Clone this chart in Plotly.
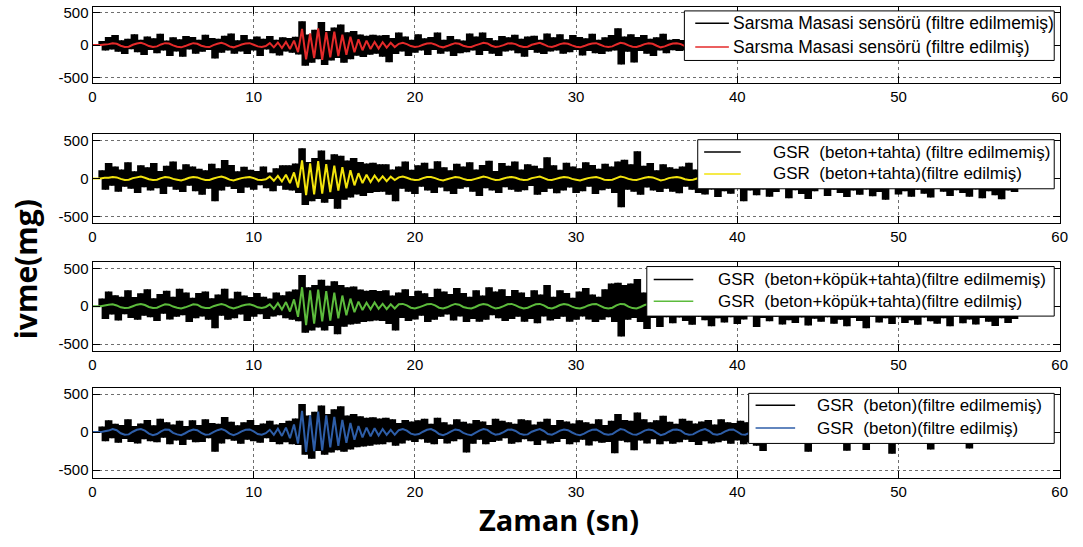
import numpy as np
import plotly.graph_objects as go

# ---------------- data (mg) ----------------
DT_RAW = 0.2    # s, unfiltered sample spacing
DT_FLT = 0.25   # s, filtered sample spacing

raw_sarsma = [
    0, 0, 0, 65, -85, 125, -70, 155, -105, 75,
    -140, 100, -65, 170, -110, 85, -155, 135, -75, 105,
    -125, 175, -85, 70, -170, 120, -100, 90, -180, 140,
    -70, 125, -135, 85, -105, 160, -75, 110, -210, 100,
    -120, 145, -85, 180, -135, 75, -100, 155, -140, 90,
    -85, 135, -170, 100, -70, 140, -125, 85, -160, 120,
    -100, 110, -120, 130, -145, 370, -320, 165, -275, 240,
    -220, 360, -310, 220, -240, 275, -200, 320, -275, 200,
    -220, 220, -165, 165, -185, 145, -150, 160, -135, 150,
    -180, 155, -265, 110, -140, 195, -100, 135, -170, 85,
    -120, 170, -85, 105, -155, 125, -75, 195, -135, 85,
    -100, 140, -170, 90, -125, 70, -110, 180, -85, 135,
    -155, 195, -90, 110, -135, 75, -170, 140, -100, 120,
    -85, 160, -125, 100, -180, 135, -75, 145, -120, 85,
    -140, 180, -100, 120, -85, 170, -135, 90, -110, 155,
    -75, 125, -160, 105, -90, 175, -125, 85, -140, 120,
    -100, 155, -85, 260, -300, 135, -105, 170, -270,
    125, -90, 155, -135, 100, -170, 120, -85, 175, -125,
    85, -80, 95, -90, 80, -85, 90, -80, 85, -90,
    80, -85, 90, -80, 85, -90, 80, -85, 95, -80,
    85, -90, 80, -85, 90, -95, 85, -80, 90, -85,
    80, -90, 95, -85, 80, -90, 85, -80, 90, -85,
    95, -80, 85, -90, 80, -85, 90, -95, 85, -80,
    90, -85, 80, -90, 85, -80, 95, -85, 80, -90,
    85, -80, 90, -85, 80, -95, 85, -90, 80, -85,
    90, -80, 85, -90, 95, -85, 80, -90, 85, -80,
    90, -85, 80, -95, 85, -80, 90, -85, 80, -90,
    85, -80, 95, -85, 80, -90, 85, -80, 90, -85,
    80, -90, 85, -80, 90, -85, 80, -85, 60, 0,
]

flt_sarsma = [
    0, 0, 0, 10,
    15, 30, 20, -10, -30, -25, 5, 25, 35, 15,
    -15, -30, -20, 10, 30, 25, -5, -25, -35, -15,
    10, 30, 20, -10, -25, -30, 0, 20, 35, 15,
    -20, -35, -15, 10, 25, 30, 5, -20, -30, -15,
    30, -35, 40, -45, 50, -60, 70, -110,
    250, -220, 180, -200, 260, -230, 200, -190,
    210, -170, 160, -150, 130, -110, 90, -80,
    70, -60, 50, -55, 45, -40, 35, -30,
    20, 35, 15, -15, -30, -20, 5, 25, 30, 10,
    -20, -35, -15, 10, 30, 20, -10, -25, -30, -5,
    15, 35, 25, -10, -30, -20, 0, 25, 30, 15,
    -15, -30, -25, 5, 20, 35, 10, -20, -30, -10,
    15, 30, 20, -5, -25, -35, -15, 10, 25, 30,
    5, -20, -30, -20, 10, 35, 25, -5, -25, -30,
    -10, 15, 30, 20, -10, -35, -20, 5, 25, 30,
    15, -15, -30, -25, 0, 20, 35, 10, -20, -30,
    -15, 10, 25, 30, 5, -25, -30, -10,
]

raw_tahta = [
    0, 0, 0, 110, -150, 205, -95, 160, -175, 120,
    -110, 215, -135, 95, -190, 175, -115, 150, -160, 205,
    -130, 100, -205, 170, -110, 225, -150, 120, -180, 190,
    -95, 160, -170, 130, -215, 110, -135, 195, -300, 135,
    -160, 245, -110, 180, -140, 95, -190, 155, -120, 115,
    -150, 100, -90, 160, -130, 80, -170, 135, -95, 175,
    -150, 175, -160, 200, -190, 400, -350, 220, -300, 270,
    -270, 370, -320, 250, -270, 320, -400, 300, -280, 240,
    -250, 270, -210, 220, -230, 200, -190, 210, -180, 190,
    -175, 190, -215, 120, -300, 160, -135, 225, -175, 115, -205,
    175, -110, 210, -160, 130, -190, 230, -120, 150, -170,
    110, -205, 195, -135, 160, -115, 215, -175, 120, -230,
    180, -130, 235, -160, 100, -190, 205, -115, 170, -150,
    225, -175, 120, -155, 190, -100, 170, -215, 135, -180,
    280, -135, 175, -195, 115, -160, 210, -120, 160, -190,
    135, -170, 215, -110, 180, -205, 130, -155, 195, -135,
    160, -190, 225, -380, 250, -150, 190, -175, 360,
    -215, 170, -120, 205, -160, 110, -180, 190, -135, 150,
    -175, 130, -195, 160, -110, 210, -150, 120, -190, 170,
    -210, 130, -145, 155, -245, 115, -170, 145, -200, 125,
    -130, 150, -300, 120, -160, 140, -220, 110, -145, 155,
    -240, 125, -180, 145, -115, 130, -260, 150, -155, 120,
    -205, 140, -270, 115, -170, 145, -130, 155, -230, 125,
    -150, 130, -190, 145, -245, 120, -160, 140, -215, 115,
    -145, 150, -235, 130, -180, 110, -280, 145, -125, 140,
    -210, 120, -170, 145, -240, 130, -150, 115, -200, 155,
    -250, 125, -140, 145, -175, 120, -230, 150, -155, 130,
    -190, 115, -240, 145, -145, 130, -260, 120, -170, 150,
    -220, 130, -275, 115, -160, 145, -180, 110, 0,
]

flt_tahta = [
    0, 0, 0, 10,
    10, 20, 15, -5, -20, -15, 5, 15, 25, 10,
    -10, -20, -15, 5, 20, 15, -5, -15, -25, -10,
    10, 20, 15, -5, -20, -20, 0, 15, 25, 10,
    -15, -25, -10, 5, 15, 20, 5, -15, -20, -10,
    25, -30, 35, -40, 50, -60, 80, -120,
    240, -220, 200, -210, 230, -200, 190, -180,
    170, -160, 150, -130, 110, -90, 70, -60,
    50, -45, 40, -35, 30, -35, 25, -20,
    15, 25, 10, -10, -20, -15, 5, 20, 20, 5,
    -15, -25, -10, 5, 20, 15, -5, -20, -20, -5,
    10, 25, 15, -5, -20, -15, 0, 15, 20, 10,
    -10, -20, -15, 5, 15, 25, 5, -15, -20, -5,
    10, 20, 15, -5, -15, -25, -10, 5, 15, 20,
    5, -15, -20, -15, 5, 25, 15, -5, -15, -20,
    -5, 10, 20, 15, -5, -25, -15, 5, 15, 20,
    10, -10, -20, -15, 0, 15, 25, 5, -15, -20,
    -10, 5, 15, 20, 5, -15, -20, -5,
]

raw_kopuk = [
    0, 0, 0, 100, -170, 195, -110, 145, -190, 125,
    -105, 210, -155, 120, -180, 170, -125, 225, -145, 105,
    -195, 160, -100, 205, -175, 125, -140, 230, -120, 180,
    -210, 110, -160, 175, -135, 195, -180, 105, -290, 155,
    -125, 230, -180, 100, -160, 190, -110, 140, -195, 120,
    -140, 175, -105, 125, -170, 100, -135, 180, -120, 145,
    -160, 195, -180, 220, -200, 410, -350, 250, -320, 280,
    -280, 350, -320, 270, -260, 330, -370, 280, -270, 250,
    -240, 260, -230, 220, -210, 205, -200, 215, -190, 200,
    -195, 210, -235, 140, -320, 180, -155, 225, -195, 135, -175,
    205, -125, 170, -210, 120, -180, 230, -140, 195, -110,
    160, -190, 240, -135, 175, -210, 125, -170, 210, -205,
    140, -180, 250, -120, 195, -160, 225, -195, 135, -170,
    215, -140, 180, -205, 120, -170, 210, -225, 155, -135,
    280, -190, 125, -170, 210, -140, 175, -205, 110, -180,
    195, -135, 240, -175, 155, -210, 125, -180, 225, -145,
    300, -210, 310, -400, 280, -180, 300, -155, 360,
    -210, 180, -300, 175, -155, 170, -275, 160, -145, 180,
    -225, 125, -150, 145, -195, 115, -245, 140, -140, 120,
    -185, 130, -265, 110, -160, 145, -215, 125, -145, 140,
    -235, 115, -175, 140, -130, 125, -275, 145, -155, 110,
    -200, 140, -140, 120, -240, 130, -185, 115, -220, 145,
    -150, 125, -255, 110, -165, 140, -205, 120, -145, 130,
    -230, 140, -180, 125, -265, 115, -155, 145, -195, 110,
    -290, 125, -140, 130, -215, 145, -160, 115, -235, 140,
    -145, 120, -220, 130, -185, 140, -245, 110, -150, 125,
    -200, 145, -230, 115, -160, 130, -265, 140, -140, 120,
    -225, 125, -175, 145, -240, 110, -155, 130, -205, 140,
    -260, 120, -160, 130, -220, 115, -170, 90, 0,
]

flt_kopuk = [
    0, 0, 0, 10,
    20, 25, 10, -15, -25, -20, 0, 20, 30, 15,
    -10, -25, -20, 5, 25, 20, -5, -20, -30, -15,
    5, 25, 20, -10, -25, -25, 0, 15, 30, 15,
    -15, -30, -15, 5, 20, 25, 10, -15, -25, -10,
    25, -35, 40, -45, 55, -70, 90, -140,
    250, -250, 210, -230, 220, -200, 200, -190,
    180, -160, 140, -120, 100, -80, 60, -50,
    45, -40, 50, -35, 30, -40, 25, -30,
    25, 30, 10, -20, -30, -15, 5, 25, 30, 10,
    -20, -30, -15, 10, 30, 20, -10, -25, -30, -10,
    15, 30, 20, -10, -30, -20, 0, 25, 30, 10,
    -15, -30, -20, 5, 25, 30, 10, -20, -30, -10,
    15, 30, 20, -5, -25, -30, -15, 10, 25, 30,
    5, -20, -30, -20, 10, 30, 25, -5, -25, -30,
    -10, 15, 30, 20, -10, -30, -20, 5, 25, 30,
    15, -15, -30, -25, 0, 20, 30, 10, -20, -30,
    -15, 10, 25, 30, 5, -25, -30, -10,
]

raw_beton = [
    0, 0, 0, 75, -120, 155, -80, 110, -140, 95,
    -90, 170, -130, 80, -150, 115, -95, 160, -120, 90,
    -135, 175, -75, 130, -160, 100, -110, 150, -170, 80,
    -100, 155, -135, 95, -130, 170, -80, 120, -260, 110,
    -150, 200, -95, 135, -115, 90, -155, 130, -100, 160,
    -120, 95, -140, 115, -80, 150, -130, 100, -160, 120,
    -135, 150, -160, 180, -170, 370, -300, 220, -350, 270,
    -250, 350, -300, 240, -270, 300, -240, 340, -260, 220,
    -230, 240, -200, 210, -190, 190, -180, 195, -165, 180,
    -160, 190, -135, 170, -180, 120, -150, 160, -110, 140,
    -130, 155, -95, 175, -140, 110, -160, 190, -90, 130,
    -150, 100, -120, 170, -95, 135, -270, 115, -155, 160,
    -100, 140, -160, 95, -130, 175, -115, 150, -80, 130,
    -155, 110, -135, 170, -95, 155, -120, 100, -170, 135,
    -110, 175, -150, 95, -130, 160, -90, 140, -160, 115,
    -135, 155, -100, 130, -175, 110, -120, 170, -140, 95,
    -130, 150, -280, 240, -115, 160, -135, 150, -240, 260,
    -110, 170, -150, 130, -95, 155, -160, 215, -120, 135,
    -155, 110, -135, 175, -100, 150, -130, 115, -170, 140,
    -120, 160, -150, 100, -135, 170, -115, 130, -155, 120,
    -110, 150, -160, 130, -135, 115, -180, 135, -250, 120,
    -100, 95, -85, 90, -95, 100, -90, 85, -95, 100,
    -90, 85, -260, 95, -100, 90, -85, 95, -90, 100,
    -95, 85, -90, 100, -245, 90, -85, 95, -100, 90,
    -235, 85, -95, 100, -90, 95, -85, 90, -285, 100,
    -90, 85, -95, 100, -85, 90, -95, 85, -100, 90,
    -230, 95, -85, 90, -100, 85, -95, 90, -85, 95,
    -90, 100, -215, 85, -95, 90, -85, 95, -100, 85,
    -90, 95, -85, 100, -95, 85, -90, 60, 0,
]

flt_beton = [
    0, 0, 0, 10,
    20, 40, 25, -15, -35, -30, 5, 30, 40, 20,
    -20, -40, -25, 10, 35, 30, -10, -30, -40, -15,
    15, 35, 25, -10, -35, -30, 0, 25, 40, 20,
    -20, -40, -20, 10, 30, 35, 10, -25, -35, -15,
    30, -35, 45, -50, 60, -80, 100, -150,
    280, -260, 220, -250, 270, -240, 220, -200,
    200, -180, 160, -140, 120, -100, 80, -70,
    60, -55, 50, -45, 40, -35, 30, -35,
    25, 40, 20, -20, -35, -25, 5, 30, 40, 15,
    -25, -40, -20, 10, 35, 25, -10, -30, -40, -10,
    20, 40, 30, -10, -35, -25, 0, 30, 35, 15,
    -20, -35, -30, 5, 25, 40, 15, -25, -35, -10,
    20, 35, 25, -5, -30, -40, -20, 10, 30, 35,
    5, -25, -35, -25, 10, 40, 30, -5, -30, -35,
    -10, 20, 35, 25, -10, -40, -25, 5, 30, 35,
    20, -20, -35, -30, 0, 25, 40, 15, -25, -35,
    -20, 10, 30, 35, 5, -30, -35, -10,
]

x_ticks = [0, 10, 20, 30, 40, 50, 60]
y_ticks = [-500, 0, 500]
y_ticktext = ["-500", "0", "500"]

names_raw = [
    "Sarsma Masasi sensörü (filtre edilmemiş)",
    "GSR\u00a0\u00a0(beton+tahta) (filtre edilmemiş)",
    "GSR\u00a0\u00a0(beton+köpük+tahta)(filtre edilmemiş)",
    "GSR\u00a0\u00a0(beton)(filtre edilmemiş)",
]
names_flt = [
    "Sarsma Masasi sensörü (filtre edilmiş)",
    "GSR\u00a0\u00a0(beton+tahta)(filtre edilmiş)",
    "GSR\u00a0\u00a0(beton+köpük+tahta)(filtre edilmiş)",
    "GSR\u00a0\u00a0(beton)(filtre edilmiş)",
]
raw_series = [raw_sarsma, raw_tahta, raw_kopuk, raw_beton]
flt_series = [flt_sarsma, flt_tahta, flt_kopuk, flt_beton]
flt_colors = ["#e42a2a", "#f2e30c", "#5cbb3c", "#2e5ea8"]

# ---------------- layout geometry (px) ----------------
W, H = 1083, 547
X0, X1 = 89.5, 1067.5
panels_px = [(4.7, 81.7), (133.3, 223.0), (262.0, 352.0), (389.3, 480.0)]
y_ranges = [[-588, 597], [-588, 588], [-588, 588], [-600, 585]]
# legend box: left, right, top, bottom, line x0, line x1, text x, row1 y, row2 y, font
legend_px = [
    (688, 1062, 9, 59, 699, 733, 735, 21.5, 45.5, 17.5),
    (701.5, 1062, 139, 188.5, 708, 745, 776, 151.5, 173.5, 17),
    (650, 1062, 267, 317, 657, 697, 720, 280, 302, 17),
    (753, 1062, 395, 445.5, 760, 800, 820, 407, 430, 17),
]

FONT = "Liberation Sans, Arial, sans-serif"


def px_x(v):
    return v / W


def px_y(v):
    return 1 - v / H


fig = go.Figure()
shapes = []
annotations = []
for k in range(4):
    ax = "" if k == 0 else str(k + 1)
    yr = np.asarray(raw_series[k], dtype=float)
    tr = np.arange(len(yr)) * DT_RAW
    # dense sampled signal drawn as the span covered between successive samples
    lo = np.minimum(yr[:-1], yr[1:])
    hi = np.maximum(yr[:-1], yr[1:])
    fig.add_trace(go.Bar(
        x=tr[:-1] + DT_RAW / 2, y=hi - lo, base=lo, width=DT_RAW * 1.35,
        marker=dict(color="black", line=dict(width=0)), name=names_raw[k],
        showlegend=False, xaxis="x" + ax, yaxis="y" + ax, hoverinfo="skip"))
    yf = flt_series[k]
    tf = np.arange(len(yf)) * DT_FLT
    fig.add_trace(go.Scatter(
        x=tf, y=yf, mode="lines", name=names_flt[k],
        line=dict(color=flt_colors[k], width=2, simplify=False),
        showlegend=False, xaxis="x" + ax, yaxis="y" + ax, hoverinfo="skip"))

    top, bot = panels_px[k]
    common = dict(
        showline=True, linecolor="black", linewidth=1, mirror="ticks",
        ticks="inside", ticklen=7, tickcolor="black", tickwidth=1,
        showgrid=True, gridcolor="#6e6e6e", griddash="dot", gridwidth=1,
        zeroline=False, tickfont=dict(family=FONT, size=15, color="black"),
    )
    fig.update_layout(**{
        "xaxis" + ax: dict(
            domain=[X0 / W, X1 / W], range=[0, 60], tickvals=x_ticks,
            anchor="y" + ax, **common),
        "yaxis" + ax: dict(
            domain=[1 - bot / H, 1 - top / H], range=y_ranges[k],
            tickvals=y_ticks, ticktext=y_ticktext, anchor="x" + ax, **common),
    })

    # legend box drawn in pixel positions
    L, R, T, B, lx0, lx1, tx, r1, r2, fs = legend_px[k]
    shapes.append(dict(type="rect", xref="paper", yref="paper", layer="above",
                       x0=px_x(L), x1=px_x(R), y0=px_y(B), y1=px_y(T),
                       fillcolor="white", line=dict(color="black", width=1)))
    for ry, col, txt in [(r1, "black", names_raw[k]), (r2, flt_colors[k], names_flt[k])]:
        shapes.append(dict(type="line", xref="paper", yref="paper", layer="above",
                           x0=px_x(lx0), x1=px_x(lx1), y0=px_y(ry), y1=px_y(ry),
                           line=dict(color=col, width=1.5)))
        annotations.append(dict(
            text=txt, x=px_x(tx), y=px_y(ry), xref="paper", yref="paper",
            xanchor="left", yanchor="middle", showarrow=False,
            font=dict(family=FONT, size=fs, color="black")))

annotations.append(dict(
    text="<b>ivme(mg)</b>", x=22 / W, y=1 - 270 / H, xref="paper", yref="paper",
    textangle=-90, showarrow=False, xanchor="center", yanchor="middle",
    font=dict(family="Open Sans, sans-serif", size=30, color="black")))
annotations.append(dict(
    text="<b>Zaman (sn)</b>", x=561 / W, y=1 - 522 / H, xref="paper", yref="paper",
    showarrow=False, xanchor="center", yanchor="middle",
    font=dict(family="Open Sans, sans-serif", size=29, color="black")))

fig.update_layout(
    width=W, height=H, margin=dict(l=0, r=0, t=0, b=0),
    paper_bgcolor="white", plot_bgcolor="white", showlegend=False,
    barmode="overlay", shapes=shapes, annotations=annotations,
)
fig.write_html("out.html")
